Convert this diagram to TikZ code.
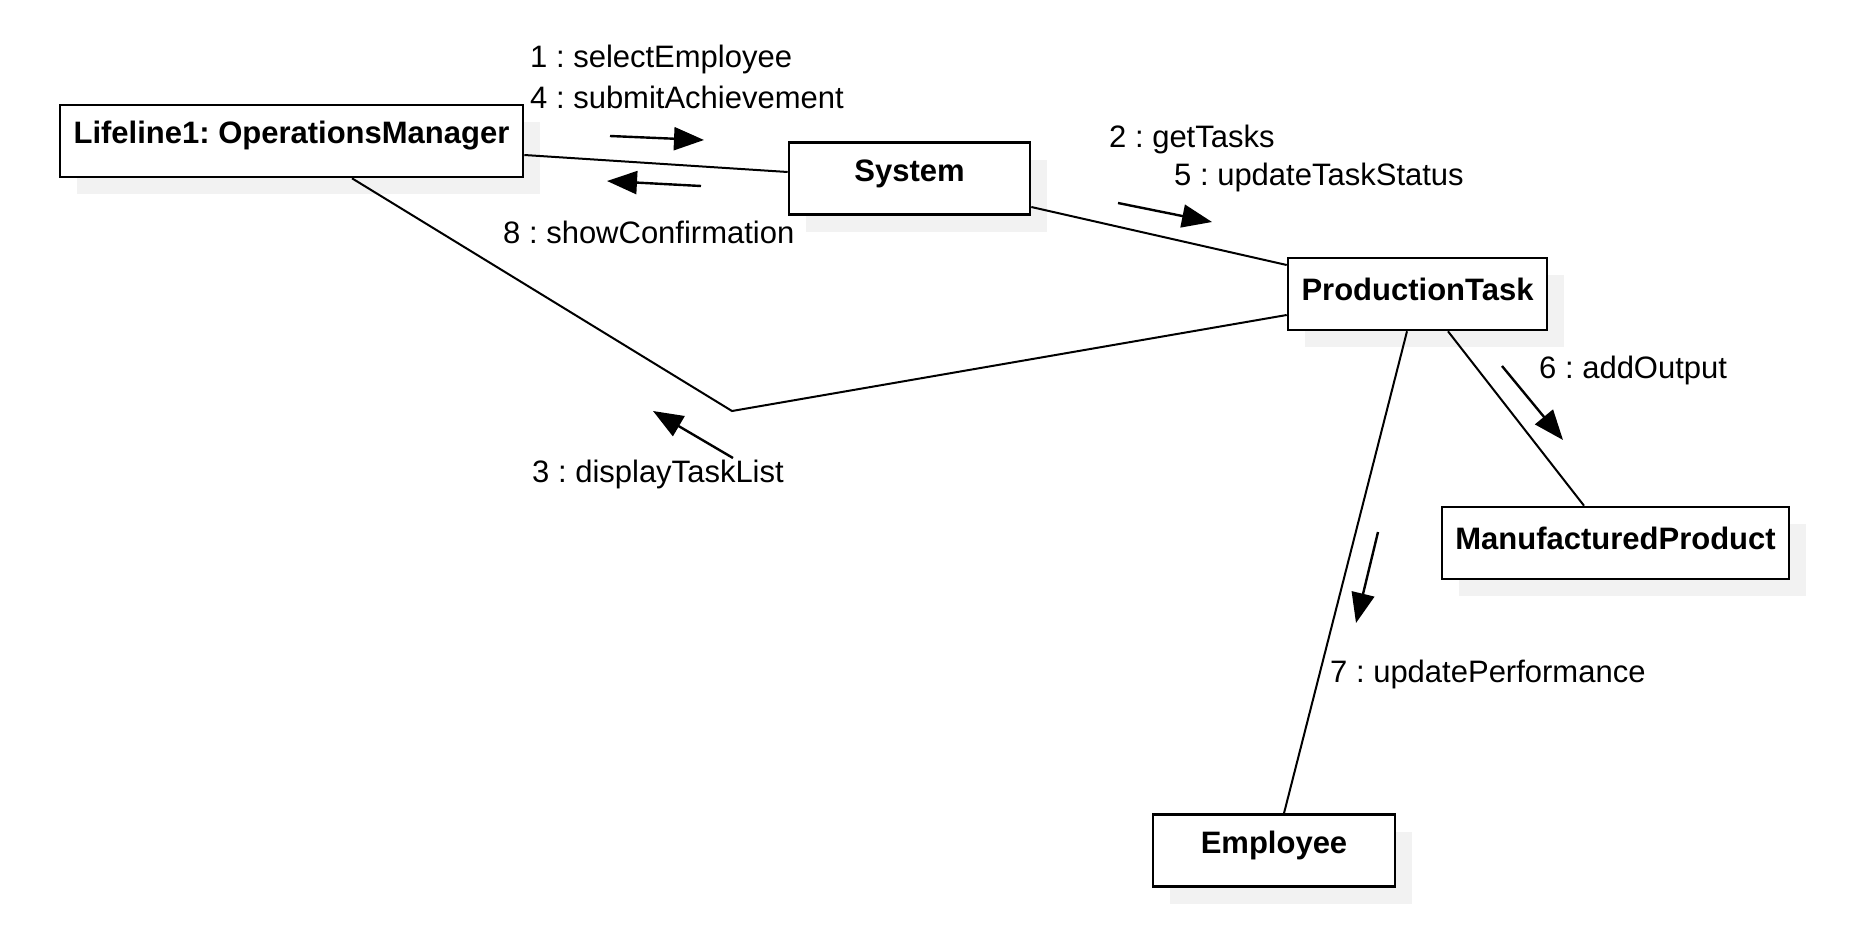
\documentclass[tikz,border=0pt]{standalone}
\usepackage{fontspec}
\setmainfont{Liberation Sans}
\usepackage{tikz}
\usetikzlibrary{positioning,calc,arrows.meta,shadows}
\tikzset{
  objectBox/.style={
    rectangle,
    draw=black,
    line width=2.6pt,
    fill=white,
    minimum height=72pt,
    inner sep=0pt,
    font=\bfseries,
    drop shadow={shadow xshift=17pt,shadow yshift=-17pt,fill=black!5,opacity=1}
  },
  boxText/.style={
    inner sep=0pt,
    font=\bfseries
  },
  linkLine/.style={
    line width=2pt
  },
  msgArrow/.style={
    -{Triangle[length=30pt,width=23pt]},
    line width=2.4pt
  },
  msgLabel/.style={
    anchor=base west,
    inner sep=0pt
  }
}

\begin{document}
\frenchspacing
\fontsize{31}{37}\selectfont
\begin{tikzpicture}[x=1pt,y=-1pt]
        \useasboundingbox (0,0) rectangle (1863,940);

        % objects
        \node[objectBox, minimum width=463pt] (manager) at (291.5,141) {};
        \node[objectBox, minimum width=241pt] (system) at (909.5,178.5) {};
        \node[objectBox, minimum width=259pt] (task) at (1417.5,294) {};
        \node[objectBox, minimum width=347pt] (product) at (1615.5,543) {};
        \node[objectBox, minimum width=242pt] (employee) at (1274,850.5) {};

        \node[boxText] at ([yshift=5pt]manager.center) {Lifeline1: OperationsManager};
        \node[boxText] at ([yshift=5pt]system.center) {System};
        \node[boxText] at ([yshift=5pt]task.center) {ProductionTask};
        \node[boxText] at ([yshift=5pt]product.center) {ManufacturedProduct};
        \node[boxText] at ([yshift=5pt]employee.center) {Employee};

        % links
        \coordinate (bend) at (732,411);
        \draw[linkLine] ([yshift=-14pt]manager.east) -- ([yshift=6.5pt]system.west);
        \draw[linkLine] ([yshift=-28.5pt]system.east) -- ([yshift=29pt]task.west);
        \draw[linkLine] ([xshift=60.5pt]manager.south) -- (bend) -- ([yshift=-21pt]task.west);
        \draw[linkLine] ([xshift=30.5pt]task.south) -- ([xshift=-31.5pt]product.north);
        \draw[linkLine] ([xshift=-10.5pt]task.south) -- ([xshift=10pt]employee.north);

        % messages
        \coordinate (m1a) at (610,136);  \coordinate (m1b) at (704,140);
        \coordinate (m8a) at (701,186);  \coordinate (m8b) at (607,181);
        \coordinate (m2a) at (1118,203); \coordinate (m2b) at (1212,222);
        \coordinate (m3a) at (733,458);  \coordinate (m3b) at (653,411);
        \coordinate (m6a) at (1502,366); \coordinate (m6b) at (1563,440);
        \coordinate (m7a) at (1378,532); \coordinate (m7b) at (1356,623);

        \draw[msgArrow] (m1a) -- (m1b);
        \draw[msgArrow] (m8a) -- (m8b);
        \draw[msgArrow] (m2a) -- (m2b);
        \draw[msgArrow] (m3a) -- (m3b);
        \draw[msgArrow] (m6a) -- (m6b);
        \draw[msgArrow] (m7a) -- (m7b);

        \node[msgLabel] (l1) at (530,67) {1 : selectEmployee};
        \node[msgLabel] (l4) at (530,108) {4 : submitAchievement};
        \node[msgLabel] (l8) at (503,243) {8 : showConfirmation};
        \node[msgLabel] (l2) at (1109,147) {2 : getTasks};
        \node[msgLabel] (l5) at (1174,185) {5 : updateTaskStatus};
        \node[msgLabel] (l3) at (532,482) {3 : displayTaskList};
        \node[msgLabel] (l6) at (1539,378) {6 : addOutput};
        \node[msgLabel] (l7) at (1330,682) {7 : updatePerformance};
    \end{tikzpicture}
\end{document}
